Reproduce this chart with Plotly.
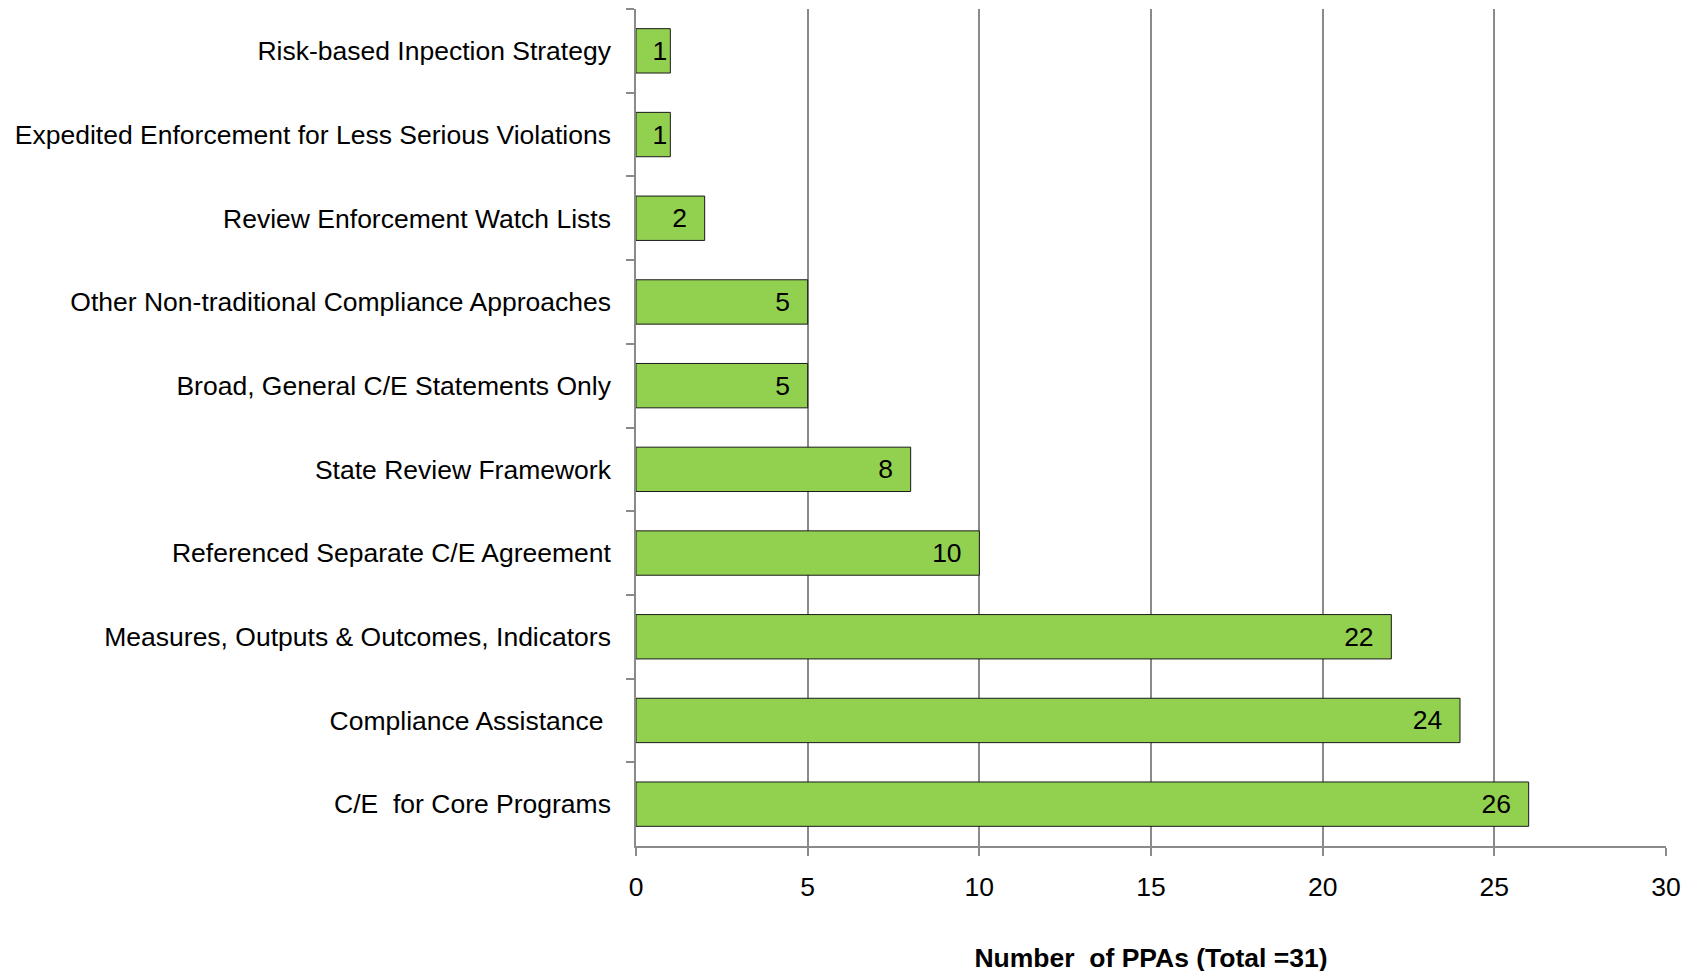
import plotly.graph_objects as go

categories = [
    "Risk-based Inpection Strategy",
    "Expedited Enforcement for Less Serious Violations",
    "Review Enforcement Watch Lists",
    "Other Non-traditional Compliance Approaches",
    "Broad, General C/E Statements Only",
    "State Review Framework",
    "Referenced Separate C/E Agreement",
    "Measures, Outputs & Outcomes, Indicators",
    "Compliance Assistance\u00a0",
    "C/E\u00a0 for Core Programs",
]
values = [1, 1, 2, 5, 5, 8, 10, 22, 24, 26]
x_ticks = [0, 5, 10, 15, 20, 25, 30]
x_title = "Number\u00a0 of PPAs (Total =31)"

FONT = "Liberation Sans, Arial, sans-serif"
GRID = "#8a8a8a"
FS = 26.5

# narrow bars get no extra right padding so the label stays inside
templates = ["%{x}" if v < 2 else "%{x}\u00a0\u00a0" for v in values]

fig = go.Figure(go.Bar(
    y=categories,
    x=values,
    orientation="h",
    marker=dict(color="#92D050", line=dict(color="#1a1a1a", width=1)),
    text=values,
    texttemplate=templates,
    textposition="inside",
    insidetextanchor="end",
    textangle=0,
    constraintext="none",
    textfont=dict(family=FONT, size=FS, color="black"),
    width=0.53,
))

fig.update_layout(
    width=1696, height=971,
    margin=dict(l=628, r=38, t=1, b=133),
    paper_bgcolor="white", plot_bgcolor="white",
    font=dict(family=FONT, size=FS, color="black"),
    showlegend=False,
    xaxis=dict(
        range=[0, 30],
        tickvals=x_ticks,
        showgrid=True, gridcolor=GRID, gridwidth=1.5,
        showline=True, linecolor=GRID, linewidth=1.5,
        ticks="outside", ticklen=8, tickcolor=GRID, tickwidth=1.5,
        zeroline=False,
        tickfont=dict(family=FONT, size=FS, color="black"),
        ticklabelstandoff=8,
        title=dict(text="<b>" + x_title + "</b>", font=dict(family=FONT, size=FS, color="black"), standoff=48),
    ),
    yaxis=dict(
        autorange="reversed",
        showgrid=False,
        showline=True, linecolor=GRID, linewidth=1.5,
        ticks="outside", ticklen=8, tickcolor=GRID, tickwidth=1.5,
        tickson="boundaries",
        tickfont=dict(family=FONT, size=FS, color="black"),
        ticklabelstandoff=18,
    ),
)

fig.write_html("out.html")
